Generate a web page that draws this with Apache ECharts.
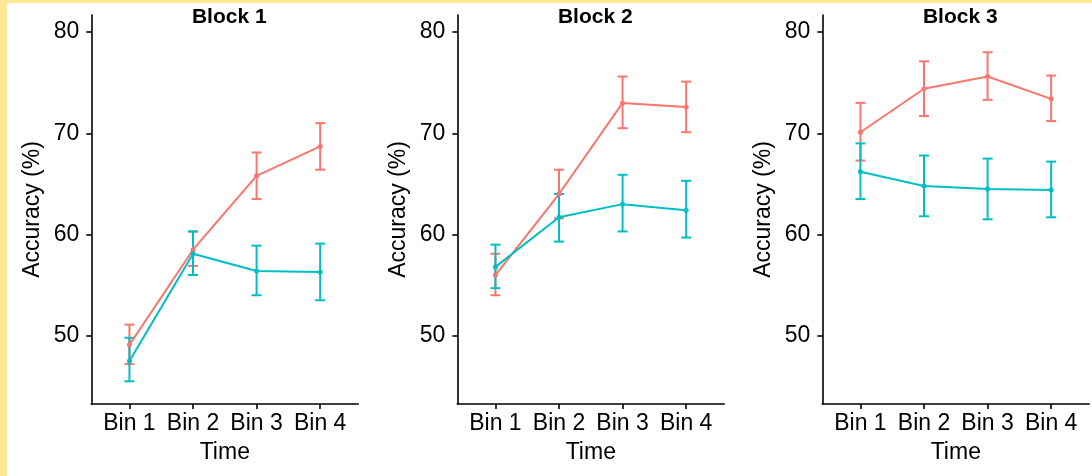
<!DOCTYPE html>
<html>
<head>
<meta charset="utf-8">
<script src="https://cdn.jsdelivr.net/npm/echarts@6/dist/echarts.min.js"></script>
<style>
  html, body { margin: 0; padding: 0; }
  #wrap { width: 1085px; height: 473px; padding: 3px 0 0 7px; background: #FFE894; }
  #chart { width: 1085px; height: 473px; background: #fff; }
</style>
</head>
<body>
<div id="wrap"><div id="chart"></div></div>
<script>
// categories
const bins = ["Bin 1", "Bin 2", "Bin 3", "Bin 4"];
const blocks = ["Block 1", "Block 2", "Block 3"];
const yTicks = [50, 60, 70, 80];

// group 1 (red) - means and error bar ends
const block1Red = [49.1, 58.5, 65.8, 68.7];
const block1RedLow = [47.2, 56.9, 63.5, 66.4];
const block1RedHigh = [51.1, 60.3, 68.1, 71.0];
const block2Red = [56.0, 64.0, 73.0, 72.6];
const block2RedLow = [54.0, 61.6, 70.5, 70.1];
const block2RedHigh = [58.1, 66.4, 75.6, 75.1];
const block3Red = [70.1, 74.4, 75.6, 73.4];
const block3RedLow = [67.3, 71.7, 73.3, 71.2];
const block3RedHigh = [73.0, 77.1, 78.0, 75.7];

// group 2 (teal)
const block1Teal = [47.5, 58.1, 56.4, 56.3];
const block1TealLow = [45.5, 56.0, 54.0, 53.5];
const block1TealHigh = [49.8, 60.3, 58.9, 59.1];
const block2Teal = [56.8, 61.7, 63.0, 62.4];
const block2TealLow = [54.7, 59.3, 60.3, 59.7];
const block2TealHigh = [59.0, 64.0, 65.9, 65.3];
const block3Teal = [66.2, 64.8, 64.5, 64.4];
const block3TealLow = [63.5, 61.8, 61.5, 61.7];
const block3TealHigh = [69.0, 67.8, 67.5, 67.2];

const RED = "#F8766D";
const TEAL = "#00BFC4";
const FONT = "Liberation Sans, Arial, sans-serif";

const panels = [
  { red: block1Red, redLow: block1RedLow, redHigh: block1RedHigh, teal: block1Teal, tealLow: block1TealLow, tealHigh: block1TealHigh },
  { red: block2Red, redLow: block2RedLow, redHigh: block2RedHigh, teal: block2Teal, tealLow: block2TealLow, tealHigh: block2TealHigh },
  { red: block3Red, redLow: block3RedLow, redHigh: block3RedHigh, teal: block3Teal, tealLow: block3TealLow, tealHigh: block3TealHigh },
];

// panel positions (px, inside the white area)
const gridLefts = [84.3, 450.3, 815.3];
const gridWidth = 267;
const gridTop = 12;
const gridHeight = 389;

function lineSeries(name, color, values, idx) {
  return {
    name: name,
    type: "line",
    xAxisIndex: idx,
    yAxisIndex: idx,
    data: values.map((v, i) => [i + 1, v]),
    symbol: "circle",
    symbolSize: 5,
    showSymbol: true,
    lineStyle: { color: color, width: 2 },
    itemStyle: { color: color },
    z: 3,
    animation: false,
  };
}

function errorSeries(name, color, low, high, idx) {
  return {
    name: name,
    type: "custom",
    xAxisIndex: idx,
    yAxisIndex: idx,
    data: low.map((l, i) => [i + 1, l, high[i]]),
    encode: { x: 0, y: [1, 2] },
    renderItem: function (params, api) {
      const x = api.value(0);
      const lo = api.coord([x, api.value(1)]);
      const hi = api.coord([x, api.value(2)]);
      const w = 5; // half cap width
      const st = { stroke: color, lineWidth: 2 };
      return {
        type: "group",
        children: [
          { type: "line", shape: { x1: lo[0], y1: lo[1], x2: hi[0], y2: hi[1] }, style: st },
          { type: "line", shape: { x1: lo[0] - w, y1: lo[1], x2: lo[0] + w, y2: lo[1] }, style: st },
          { type: "line", shape: { x1: hi[0] - w, y1: hi[1], x2: hi[0] + w, y2: hi[1] }, style: st },
        ],
      };
    },
    z: 2,
    animation: false,
  };
}

const grid = [];
const xAxis = [];
const yAxis = [];
const series = [];
const graphic = [];

panels.forEach((p, idx) => {
  grid.push({ left: gridLefts[idx], top: gridTop, width: gridWidth, height: gridHeight });
  xAxis.push({
    type: "value",
    gridIndex: idx,
    min: 0.4,
    max: 4.6,
    name: "Time",
    nameLocation: "middle",
    nameGap: 37,
    nameTextStyle: { fontSize: 23, color: "#000", fontFamily: FONT },
    axisLine: { show: true, lineStyle: { color: "#000", width: 1.6 } },
    axisTick: { show: true, customValues: [1, 2, 3, 4], length: 5, lineStyle: { color: "#000", width: 1.6 } },
    axisLabel: {
      customValues: [1, 2, 3, 4],
      formatter: (v) => bins[v - 1],
      fontSize: 23,
      color: "#000",
      fontFamily: FONT,
      margin: 8,
    },
    splitLine: { show: false },
  });
  yAxis.push({
    type: "value",
    gridIndex: idx,
    min: 43.26,
    max: 81.68,
    name: "Accuracy (%)",
    nameLocation: "middle",
    nameGap: 47,
    nameTextStyle: { fontSize: 23, color: "#000", fontFamily: FONT },
    axisLine: { show: true, lineStyle: { color: "#000", width: 1.6 } },
    axisTick: { show: true, customValues: yTicks, length: 5, lineStyle: { color: "#000", width: 1.6 } },
    axisLabel: { customValues: yTicks, fontSize: 23, color: "#000", fontFamily: FONT, margin: 12 },
    splitLine: { show: false },
  });
  series.push(errorSeries("Group 1", RED, p.redLow, p.redHigh, idx));
  series.push(errorSeries("Group 2", TEAL, p.tealLow, p.tealHigh, idx));
  series.push(lineSeries("Group 1", RED, p.red, idx));
  series.push(lineSeries("Group 2", TEAL, p.teal, idx));
  graphic.push({
    type: "text",
    x: gridLefts[idx] + gridWidth / 2 + 4.5,
    y: 14,
    style: {
      text: blocks[idx],
      textAlign: "center",
      textVerticalAlign: "middle",
      font: "bold 21px " + FONT,
      fill: "#000",
    },
  });
});

const chart = echarts.init(document.getElementById("chart"));
chart.setOption({
  animation: false,
  backgroundColor: "#fff",
  grid: grid,
  xAxis: xAxis,
  yAxis: yAxis,
  series: series,
  graphic: graphic,
});
</script>
</body>
</html>
